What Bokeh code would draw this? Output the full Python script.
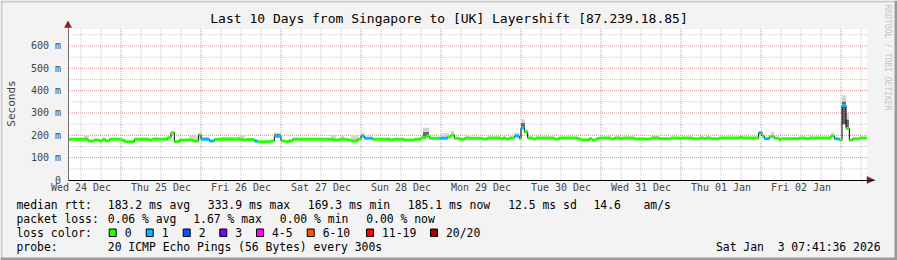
import numpy as np
import pandas as pd
from bokeh.plotting import figure
from bokeh.models import Range1d, FixedTicker, DatetimeTickFormatter
from bokeh.core.properties import value
from bokeh.embed import file_html
from bokeh.resources import INLINE

# ---------------- data (hours since 2025-12-24 00:00, values in ms) ----------------
median_h = [8.1, 14.1, 16.0, 17.5, 18.5, 19.3, 20.5, 24.0, 25.0, 28.0, 32.5, 33.3, 38.0, 39.0, 40.0,
            41.5, 45.5, 47.3, 48.0, 50.5, 52.0, 60.5, 61.5, 64.0, 65.0, 69.0, 70.0, 72.0, 73.5, 74.5,
            75.5, 87.5, 89.5, 92.0, 93.0, 95.0, 96.0, 97.0, 99.5, 104.5, 105.5, 109.0, 112.0, 114.0,
            115.5, 116.5, 119.5, 122.0, 123.0, 124.0, 125.5, 127.0, 132.5, 134.0, 138.0, 138.5, 139.5,
            140.5, 142.0, 143.5, 144.0, 145.0, 146.0, 147.5, 148.5, 154.0, 155.5, 161.0, 162.0, 164.5,
            165.3, 166.5, 167.5, 171.0, 172.0, 173.5, 174.5, 178.0, 183.0, 185.5, 189.0, 191.5, 192.0,
            195.5, 197.5, 199.0, 199.5, 201.0, 203.5, 209.5, 210.3, 215.3, 216.3, 217.0, 218.5, 220.0,
            221.5, 222.0, 227.5, 229.3, 230.5, 237.0, 238.0, 239.5, 240.3, 241.5, 242.5, 243.5, 245.5]
median_ms = [182, 175, 179, 175, 182, 175, 182, 179, 171, 182, 179, 182, 189, 212, 171,
             179, 175, 203, 182, 175, 182, 179, 181, 175, 171, 175, 196, 175, 171, 175,
             182, 179, 182, 179, 175, 182, 197, 187, 182, 179, 182, 179, 182, 189,
             197, 187, 187, 192, 201, 187, 182, 187, 184, 188, 184, 188, 184,
             188, 197, 185, 234, 215, 188, 184, 188, 184, 188, 184, 179, 185,
             179, 185, 188, 184, 188, 185, 188, 184, 188, 185, 188, 185, 188,
             185, 188, 185, 188, 185, 188, 191, 188, 212, 197, 185, 194, 187,
             179, 185, 188, 185, 188, 197, 185, 179, 334, 231, 179, 185, 188]
median_loss = [0, 0, 0, 0, 0, 0, 0, 0, 0, 0, 0, 0, 0, 0, 0,
               0, 0, 0, 1, 1, 0, 0, 0, 1, 0, 0, 1, 0, 0, 0,
               0, 0, 0, 0, 0, 0, 1, 1, 0, 0, 0, 0, 0, 0,
               0, 0, 1, 0, 0, 0, 0, 0, 0, 0, 0, 0, 0,
               0, 1, 0, 1, 0, 0, 0, 0, 0, 0, 0, 0, 0,
               0, 0, 0, 0, 0, 0, 0, 0, 0, 0, 0, 0, 0,
               0, 0, 0, 0, 0, 0, 0, 0, 1, 0, 1, 0, 0,
               0, 0, 0, 0, 0, 0, 1, 0, 1, 0, 0, 0, 0]
end_h = 247.7

# smoke (spread of the 20 pings): start h, end h, low ms, high ms
smoke_t0 = [12.9, 30.0, 33.9, 44.4, 47.4, 48.3, 54.0, 59.4, 69.9, 74.1, 75.9, 87.0, 90.0, 93.0, 96.0,
            103.8, 114.6, 120.0, 123.0, 127.5, 141.9, 144.0, 145.2, 155.1, 159.6, 173.4, 176.4, 179.4,
            183.6, 209.4, 215.4, 219.0, 227.4, 233.1, 237.0, 240.3, 241.5]
smoke_t1 = [14.4, 31.5, 35.4, 47.1, 48.3, 50.4, 60.6, 61.2, 72.0, 75.0, 77.4, 88.5, 90.9, 95.1, 96.9,
            105.0, 116.4, 122.4, 123.9, 128.4, 143.4, 145.2, 146.1, 156.6, 161.1, 174.3, 177.6, 180.6,
            185.4, 210.6, 216.6, 219.9, 229.5, 234.9, 237.9, 241.5, 242.4]
smoke_lo = [182, 182, 182, 178, 203, 182, 182, 182, 196, 175, 182, 182, 182, 175, 197,
            182, 189, 187, 201, 187, 197, 234, 215, 188, 188, 188, 188, 188,
            188, 191, 212, 194, 188, 188, 197, 250, 231]
smoke_hi = [200, 190, 193, 200, 212, 193, 192, 200, 212, 183, 190, 200, 200, 200, 212,
            190, 234, 209, 219, 200, 212, 272, 227, 193, 193, 196, 193, 193,
            200, 193, 218, 215, 193, 193, 212, 379, 301]
# denser core of the smoke on the spikes
core_t0 = [69.9, 114.6, 144.0, 240.3, 241.5]
core_t1 = [72.0, 116.4, 145.2, 241.5, 242.4]
core_lo = [196, 195, 234, 250, 231]
core_hi = [205, 215, 255, 350, 270]

loss_colors = ["#26ff00", "#00b8ff", "#0059ff", "#7e00ff", "#ff00ff", "#ff5500", "#ff0000", "#a10000"]
loss_names = ["0", "1", "2", "3", "4-5", "6-10", "11-19", "20/20"]

y_ticks = [0, 100, 200, 300, 400, 500, 600]
y_labels = ["0", "100 m", "200 m", "300 m", "400 m", "500 m", "600 m"]
y_minor = [50, 150, 250, 350, 450, 550, 650]

title_text = "Last 10 Days from Singapore to [UK] Layershift [87.239.18.85]"
stats_rtt = ["183.2 ms avg", "333.9 ms max", "169.3 ms min", "185.1 ms now", "12.5 ms sd", "14.6", "am/s"]
stats_loss = ["0.06 % avg", "1.67 % max", "0.00 % min", "0.00 % now"]
probe_text = "20 ICMP Echo Pings (56 Bytes) every 300s"
stamp_text = "Sat Jan \u00a03 07:41:36 2026"
credit_text = "RRDTOOL / TOBI OETIKER"

# ---------------- geometry ----------------
W, H = 897, 260
view_h0, view_h1 = 8.1, 247.8          # visible time span (hours)
y_top = 676.0                          # top of the plot area (ms)
px_l, px_r, px_t, px_b = 67.5, 866.5, 28.5, 179.5   # plot area on the canvas

HOUR = 3600 * 1000.0
T0 = pd.Timestamp("2025-12-24 00:00").value / 1e6


def ms(h):
    return T0 + np.asarray(h, dtype=float) * HOUR


h_per_px = (view_h1 - view_h0) / (px_r - px_l)
ms_per_px = y_top / (px_b - px_t)
x_start = view_h0 - px_l * h_per_px
x_end = view_h0 + (W - px_l) * h_per_px
y_start = -(H - px_b) * ms_per_px
y_end = px_b * ms_per_px

MONO = "DejaVu Sans Mono"

p = figure(width=W, height=H, x_axis_type="datetime", output_backend="svg",
           toolbar_location=None,
           x_range=Range1d(ms(x_start), ms(x_end)), y_range=Range1d(y_start, y_end),
           min_border=0, min_border_left=0, min_border_right=0, min_border_top=0,
           min_border_bottom=0, background_fill_color="#f3f3f3",
           border_fill_color="#f3f3f3", outline_line_color=None)
p.title.visible = False
p.grid.visible = False
p.extra_x_ranges = {"px": Range1d(0, W)}
p.extra_y_ranges = {"px": Range1d(H, 0)}

# plot canvas
p.quad(left=[ms(view_h0)], right=[ms(view_h1)], bottom=[0], top=[y_top],
       fill_color="white", line_color=None)

# grid
day_h = np.arange(24, view_h1, 24)
six_h = np.array([h for h in np.arange(12, view_h1, 6) if h % 24 != 0])
p.segment(x0=ms(six_h), x1=ms(six_h), y0=0, y1=y_top, line_color="#c8c8c8",
          line_dash="1 1", line_width=1)
p.segment(x0=ms(view_h0), x1=ms(view_h1), y0=y_minor, y1=y_minor, line_color="#c8c8c8",
          line_dash="1 1", line_width=1)
p.segment(x0=ms(day_h), x1=ms(day_h), y0=0, y1=y_top, line_color="#e88c8c",
          line_dash="1 1", line_width=1)
p.segment(x0=ms(view_h0), x1=ms(view_h1), y0=y_ticks[1:], y1=y_ticks[1:], line_color="#e88c8c",
          line_dash="1 1", line_width=1)

# smoke
p.quad(left=ms(smoke_t0), right=ms(smoke_t1), bottom=smoke_lo, top=smoke_hi,
       fill_color="#d4d4d4", line_color=None)
p.quad(left=ms(core_t0), right=ms(core_t1), bottom=core_lo, top=core_hi,
       fill_color="#6a6a6a", line_color=None)

# median: thin black step, then loss-coloured horizontal pieces
xs = list(median_h) + [end_h]
ys = list(median_ms) + [median_ms[-1]]
p.step(ms(xs), ys, mode="after", line_color="black", line_width=1)
seg_x1 = list(median_h[1:]) + [end_h]
p.segment(x0=ms(median_h), x1=ms(seg_x1), y0=median_ms, y1=median_ms,
          line_color=[loss_colors[k] for k in median_loss], line_width=3, line_cap="butt")

# axes, pinned to the plot area's edges
xa = p.xaxis[0]
xa.fixed_location = 0
xa.bounds = (ms(view_h0), ms(view_h1 + 2.1))
xa.ticker = FixedTicker(ticks=list(ms(np.arange(12, 240, 24))))
xa.formatter = DatetimeTickFormatter(days="%a %d %b", hours="%a %d %b")
xa.major_tick_line_color = None
xa.minor_tick_line_color = None
xa.major_tick_out = 0
xa.major_tick_in = 0
xa.minor_tick_out = 0
xa.minor_tick_in = 0
xa.major_label_standoff = 2
xa.major_label_text_font = MONO
xa.major_label_text_font_size = "10px"
xa.axis_line_color = "black"

ya = p.yaxis[0]
ya.fixed_location = ms(view_h0)
ya.bounds = (0, y_top + 9)
ya.ticker = FixedTicker(ticks=y_ticks)
ya.major_label_overrides = dict(zip(y_ticks, y_labels))
ya.major_tick_line_color = None
ya.minor_tick_line_color = None
ya.major_tick_out = 0
ya.major_tick_in = 0
ya.minor_tick_out = 0
ya.minor_tick_in = 0
ya.major_label_standoff = 7
ya.major_label_text_font = MONO
ya.major_label_text_font_size = "10px"
ya.axis_line_color = "#6e6e6e"
ya.axis_label = "Seconds"
ya.axis_label_text_font = MONO
ya.axis_label_text_font_size = "11px"
ya.axis_label_text_font_style = "normal"
ya.axis_label_standoff = 10

# ---------------- decorations in canvas pixels ----------------
PX = dict(x_range_name="px", y_range_name="px")
ARROW = "#8b1c1c"
p.patches(xs=[[64, 71, 67.5], [866.5, 866.5, 874]], ys=[[27, 27, 20.5], [176, 183, 179.5]],
          fill_color=ARROW, line_color=ARROW, line_width=0.5, **PX)


def txt(x, y, s, align="left", color="black", size="11.4px", angle=0.0):
    p.text(x=[x], y=[y], text=[s], text_font=value(MONO), text_font_size=size,
           text_color=color, text_align=align, text_baseline="middle", angle=angle, **PX)


txt(W / 2, 18, title_text, align="center", size="13px")

txt(16, 204, "median rtt:")
for x, t in zip([107.3, 207.3, 307.3, 407.3, 507.7, 593, 643], stats_rtt):
    txt(x, 204, t)
txt(16, 218, "packet loss:")
for x, t in zip([107.3, 192.7, 279.3, 365.7], stats_loss):
    txt(x, 218, t)
txt(16, 232, "loss color:")
box_x = [108.7, 145.7, 182.7, 219.3, 256, 306.7, 366, 430]
p.quad(left=box_x, right=[b + 7 for b in box_x], top=[228.5] * 8, bottom=[236] * 8,
       fill_color=loss_colors, line_color="black", line_width=1, **PX)
for bx, name in zip(box_x, loss_names):
    txt(bx + 15.5, 232, name)
txt(16, 246, "probe:")
txt(107.3, 246, probe_text)
txt(880, 246, stamp_text, align="right")

txt(887, 4, credit_text, color="#c4c4c4", size="8px", angle=-np.pi / 2)

# image border shading
p.quad(left=[0, 0, W - 3, 0], right=[W, 2, W, W], top=[0, 0, 0, H - 3], bottom=[2, H, H, H],
       fill_color=["#cbcbcb", "#cbcbcb", "#9a9a9a", "#9a9a9a"], line_color=None, **PX)

open("out.html", "w").write(file_html(p, INLINE))
